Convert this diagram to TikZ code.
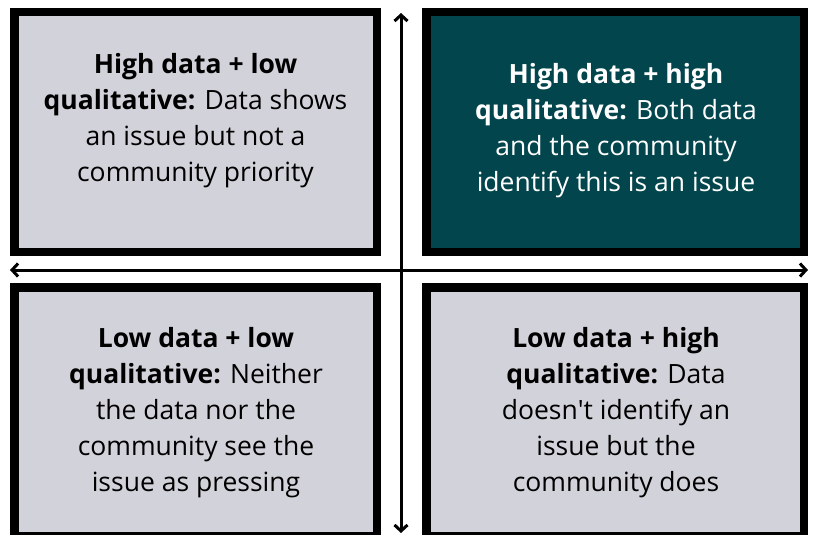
\documentclass[tikz,border=0pt]{standalone}
\usepackage{fontspec}
\setmainfont{Open Sans}
\usetikzlibrary{arrows.meta}

\definecolor{quadgray}{HTML}{D2D2DA}
\definecolor{quadteal}{HTML}{03454D}

\begin{document}
\begin{tikzpicture}[x=1pt,y=-1pt,>={Straight Barb[length=6pt,width=13pt]},
                    axis/.style={<->,line width=3pt},
                    quad/.style={draw=black,line width=8.5pt,fill=quadgray,
                                 minimum width=362.5pt,minimum height=239.5pt,
                                 inner sep=0pt},
                    quadtext/.style={align=center,inner sep=0pt,
                                     font=\fontsize{26.5}{36}\selectfont}]
      \useasboundingbox (0,0) rectangle (814,535);
      \clip (0,0) rectangle (814,535);

      % the four quadrants
      \node[quad]                                          (tl) at (195.5,132)   {};
      \node[quad,fill=quadteal,minimum width=377.5pt]      (tr) at (615,132)     {};
      \node[quad,minimum height=248.5pt]                   (bl) at (195.5,411.5) {};
      \node[quad,minimum width=377.5pt,minimum height=248.5pt] (br) at (615,411.5) {};

      \node[quadtext]            (tltext) at (195.5,120.5) {\textbf{High data + low}\\
            \textbf{qualitative:} Data shows\\ an issue but not a\\ community priority};
      \node[quadtext,text=white] (trtext) at (616,130.5)   {\textbf{High data + high}\\
            \textbf{qualitative:} Both data\\ and the community\\ identify this is an issue};
      \node[quadtext]            (bltext) at (196,413)     {\textbf{Low data + low}\\
            \textbf{qualitative:} Neither\\ the data nor the\\ community see the\\ issue as pressing};
      \node[quadtext]            (brtext) at (616,413)     {\textbf{Low data + high}\\
            \textbf{qualitative:} Data\\ doesn\textquotesingle t identify an\\ issue but the\\ community does};

      % axes
      \coordinate (up)    at (401,13);
      \coordinate (down)  at (401,533);
      \coordinate (left)  at (10,270);
      \coordinate (right) at (808,270);

      \draw[axis] (down) -- (up);
      \draw[axis] (left) -- (right);

\end{tikzpicture}
\end{document}
